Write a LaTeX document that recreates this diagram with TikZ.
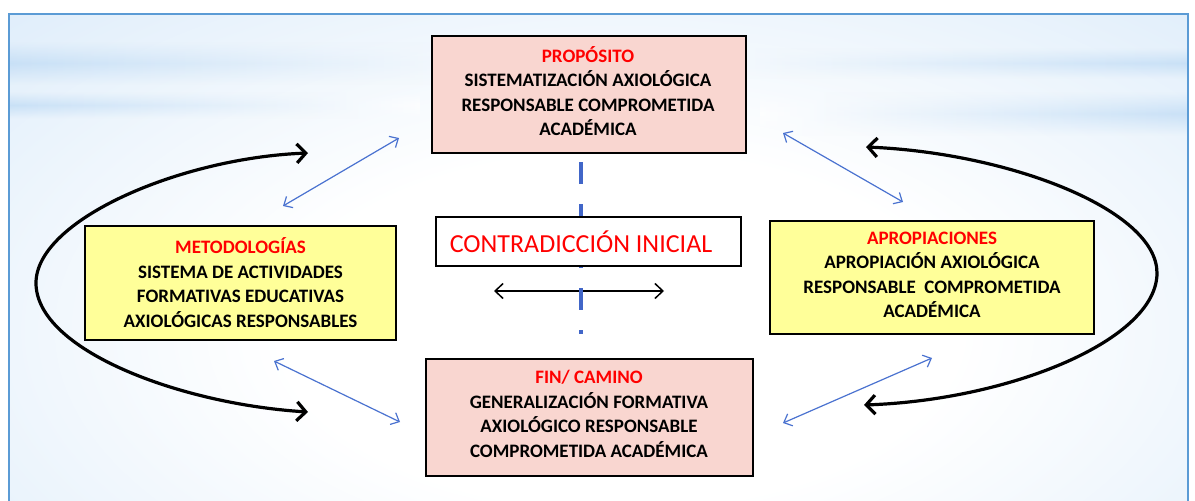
\documentclass[tikz,border=0pt]{standalone}
\usepackage{fontspec}
\setmainfont{Carlito}
\usetikzlibrary{arrows.meta,fadings}
\definecolor{framec}{HTML}{5B9BD5}
\definecolor{bgblue}{HTML}{C9E1F7}
\definecolor{bandblue}{HTML}{BFDBF5}
\definecolor{pinkf}{HTML}{F9D6D0}
\definecolor{yelf}{HTML}{FFFF99}
\definecolor{arrblue}{HTML}{4A72D0}
\definecolor{dashblue}{HTML}{4166C8}
\definecolor{titlered}{HTML}{FF0000}
\pgfdeclareradialshading{bgshade}{\pgfpoint{0bp}{0bp}}{color(0bp)=(white); color(13bp)=(white); color(48bp)=(bgblue); color(50bp)=(bgblue)}
\tikzfading[name=band, top color=transparent!100, bottom color=transparent!100, middle color=transparent!25]
\tikzset{
  box/.style={draw=black, line width=1.5pt, inner sep=0pt},
  pinkbox/.style={box, fill=pinkf},
  yelbox/.style={box, fill=yelf},
  boxtext/.style={align=center, inner sep=0pt, font=\bfseries\fontsize{19}{24.5}\selectfont},
  thinblue/.style={draw=arrblue, line width=1.2pt, arrows={Straight Barb[length=7pt,width=13pt]-Straight Barb[length=7pt,width=13pt]}},
  thinblack/.style={draw=black, line width=1.5pt, arrows={Straight Barb[length=8pt,width=15pt]-Straight Barb[length=8pt,width=15pt]}},
  bigarc/.style={draw=black, line width=3.2pt, arrows={Straight Barb[length=9pt,width=19pt]-Straight Barb[length=9pt,width=19pt]}},
  axis/.style={draw=dashblue, line width=4.5pt, dash pattern=on 22pt off 20pt}
}
\begin{document}
\begin{tikzpicture}[x=1pt,y=-1pt]
\useasboundingbox (0,0) rectangle (1195,501);
\fill[white] (0,0) rectangle (1195,501);
% background
\begin{scope}
  \clip (9,14) rectangle (1188,520);
  \shade[shading=bgshade] (-30,-10) rectangle (1270,670);
  \shade[left color=bandblue, right color=white, path fading=band] (9,42) rectangle (560,84);
  \shade[left color=bandblue, right color=white, path fading=band] (9,92) rectangle (420,118);
  \shade[left color=white, right color=bandblue, path fading=band] (640,48) rectangle (1188,78);
  \shade[left color=white, right color=bandblue, path fading=band] (760,92) rectangle (1188,135);
\end{scope}
\draw[framec, line width=2pt] (9,520) -- (9,14) -- (1188,14) -- (1188,520);

% central horizontal double arrow
\coordinate (ha) at (494,291);
\coordinate (hb) at (664,291);
\draw[thinblack] (ha) -- (hb);

% dashed axis
\coordinate (axt) at (581,36);
\coordinate (axb) at (581,334);
\draw[axis] (axt) -- (axb);

% boxes
\node[pinkbox, minimum width=314pt, minimum height=117pt] (prop) at (589,94.5) {};
\node[boxtext] (propt) at (588,91) {\textcolor{titlered}{PROPÓSITO}\\SISTEMATIZACIÓN AXIOLÓGICA\\RESPONSABLE COMPROMETIDA\\ACADÉMICA};

\node[box, fill=white, minimum width=305pt, minimum height=49pt] (contr) at (588.5,241.5) {};
\node[inner sep=0pt, text=titlered, font=\fontsize{26}{30}\selectfont] (contrt) at (581,242) {CONTRADICCIÓN INICIAL};

\node[yelbox, minimum width=311pt, minimum height=114pt] (met) at (240.5,283) {};
\node[boxtext] (mett) at (240.5,282.5) {\textcolor{titlered}{METODOLOGÍAS}\\SISTEMA DE ACTIVIDADES\\FORMATIVAS EDUCATIVAS\\AXIOLÓGICAS RESPONSABLES};

\node[yelbox, minimum width=324pt, minimum height=113pt] (apr) at (932,277.5) {};
\node[boxtext] (aprt) at (932,275) {\textcolor{titlered}{APROPIACIONES}\\APROPIACIÓN AXIOLÓGICA\\RESPONSABLE~ COMPROMETIDA\\ACADÉMICA};

\node[pinkbox, minimum width=327pt, minimum height=117pt] (fin) at (589.5,417.5) {};
\node[boxtext] (fint) at (589,414) {\textcolor{titlered}{FIN/ CAMINO}\\GENERALIZACIÓN FORMATIVA\\AXIOLÓGICO RESPONSABLE\\COMPROMETIDA ACADÉMICA};

% thin blue double arrows
\coordinate (ula) at (399,138);
\coordinate (ulb) at (283,206);
\coordinate (ura) at (783,133);
\coordinate (urb) at (903,202);
\coordinate (lla) at (274,361);
\coordinate (llb) at (400,422);
\coordinate (lra) at (932,358);
\coordinate (lrb) at (783,423);
\draw[thinblue] (ula) -- (ulb);
\draw[thinblue] (ura) -- (urb);
\draw[thinblue] (lla) -- (llb);
\draw[thinblue] (lra) -- (lrb);

% big black arcs
\coordinate (lat) at (308,153);
\coordinate (lam) at (36,283);
\coordinate (lab) at (308,412);
\draw[bigarc] (lat) .. controls (180,158) and (36,220) .. (lam) .. controls (36,350) and (180,404) .. (lab);
\coordinate (rat) at (866,147);
\coordinate (ram) at (1157,273);
\coordinate (rab) at (864,405);
\draw[bigarc] (rat) .. controls (1010,153) and (1157,210) .. (ram) .. controls (1157,340) and (1010,400) .. (rab);
\end{tikzpicture}
\end{document}
